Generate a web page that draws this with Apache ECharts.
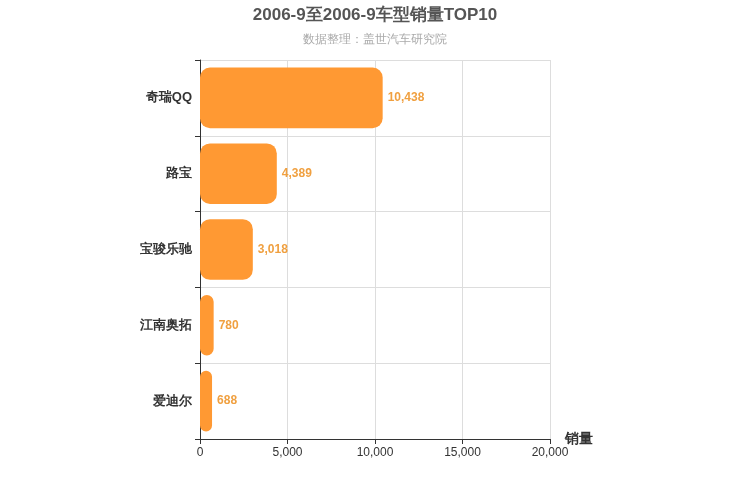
<!DOCTYPE html>
<html>
<head>
<meta charset="utf-8">
<script src="https://cdn.jsdelivr.net/npm/echarts@6/dist/echarts.min.js"></script>
<style>html,body{margin:0;padding:0;background:#fff}#main{width:750px;height:500px}</style>
</head>
<body>
<div id="main"></div>
<script>
var models = ['奇瑞QQ', '路宝', '宝骏乐驰', '江南奥拓', '爱迪尔'];
var sales = [10438, 4389, 3018, 780, 688];

var chart = echarts.init(document.getElementById('main'));
chart.setOption({
  title: {
    text: '2006-9至2006-9车型销量TOP10',
    subtext: '数据整理：盖世汽车研究院',
    left: 'center',
    top: 2,
    itemGap: 10,
    textStyle: { fontSize: 17, fontWeight: 'bold', color: '#555' },
    subtextStyle: { fontSize: 12, color: '#aaa' }
  },
  grid: { left: 200, right: 200, top: 60, bottom: 61 },
  xAxis: {
    type: 'value',
    min: 0,
    max: 20000,
    interval: 5000,
    name: '销量',
    nameTextStyle: { fontSize: 14, fontWeight: 'bold', color: '#333', padding: [22, 0, 0, 0] },
    axisLine: { show: true, lineStyle: { color: '#333' } },
    axisTick: { show: true },
    axisLabel: { color: '#333', fontSize: 12 },
    splitLine: { lineStyle: { color: '#ddd' } }
  },
  yAxis: {
    type: 'category',
    data: models,
    inverse: true,
    axisLine: { lineStyle: { color: '#333' } },
    axisTick: { show: true },
    axisLabel: { color: '#333', fontSize: 13, fontWeight: 'bold' },
    splitLine: { show: true, lineStyle: { color: '#ddd' } }
  },
  series: [{
    type: 'bar',
    data: sales,
    barWidth: '80%',
    itemStyle: { color: '#FF9933', borderRadius: 10 },
    label: { show: true, position: 'right', color: '#F0A040', fontWeight: 'bold', fontSize: 12,
      formatter: function (p) { return p.value.toLocaleString('en-US'); } }
  }]
});
</script>
</body>
</html>
